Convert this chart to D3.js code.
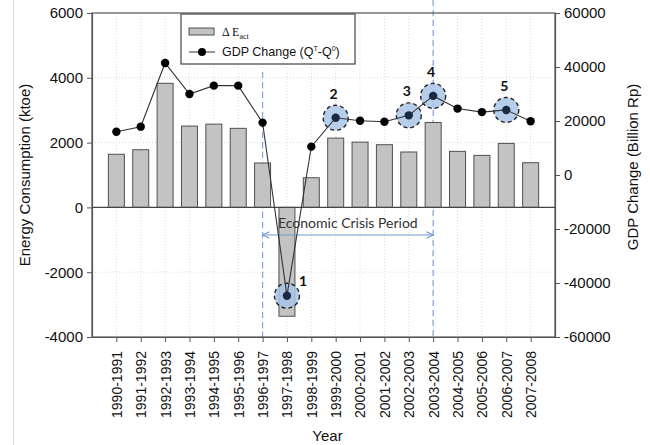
<!DOCTYPE html>
<html>
<head>
<meta charset="utf-8">
<script src="https://cdn.jsdelivr.net/npm/d3@7"></script>
<style>
  body { margin: 0; background: #fff; }
  svg { display: block; font-family: "Liberation Sans", Arial, sans-serif; }
</style>
</head>
<body>
<div id="chart"></div>
<script>
// data
const years = ["1990-1991","1991-1992","1992-1993","1993-1994","1994-1995","1995-1996",
  "1996-1997","1997-1998","1998-1999","1999-2000","2000-2001","2001-2002","2002-2003",
  "2003-2004","2004-2005","2005-2006","2006-2007","2007-2008"];
const energyChange = [1640, 1780, 3830, 2510, 2570, 2440, 1370, -3360, 915,
  2140, 2015, 1935, 1710, 2620, 1730, 1605, 1975, 1380];
const gdpChange = [16000, 17900, 41500, 30000, 33100, 33100, 19400, -44700, 10500,
  21200, 20100, 19700, 22100, 29300, 24600, 23300, 24100, 19900];
const leftTicks = [-4000, -2000, 0, 2000, 4000, 6000];
const rightTicks = [-60000, -40000, -20000, 0, 20000, 40000, 60000];
// highlighted points: [year index, label]
const highlights = [[7, "1"], [9, "2"], [12, "3"], [13, "4"], [16, "5"]];
const crisisStart = "1996-1997";
const crisisEnd = "2003-2004";

const width = 650, height = 445;
const margin = { top: 13, right: 95, bottom: 108, left: 92 };
const innerW = width - margin.left - margin.right;
const innerH = height - margin.top - margin.bottom;

const svg = d3.select("#chart").append("svg")
  .attr("width", width)
  .attr("height", height);

// faint page edge line on the left
svg.append("line")
  .attr("x1", 13.5).attr("x2", 13.5)
  .attr("y1", 0).attr("y2", height)
  .attr("stroke", "#ddd");

const g = svg.append("g")
  .attr("transform", `translate(${margin.left},${margin.top})`);

const x = d3.scalePoint()
  .domain(years)
  .range([0, innerW])
  .padding(1);

const yL = d3.scaleLinear().domain([-4000, 6000]).range([innerH, 0]);
const yR = d3.scaleLinear().domain([-60000, 60000]).range([innerH, 0]);

// grid
g.append("g")
  .selectAll("line.hgrid")
  .data(leftTicks.filter(d => d !== 0 && d !== 6000 && d !== -4000))
  .join("line")
  .attr("x1", 0).attr("x2", innerW)
  .attr("y1", d => yL(d)).attr("y2", d => yL(d))
  .attr("stroke", "#d8d8d8")
  .attr("stroke-dasharray", "1,2");

g.append("g")
  .selectAll("line.vgrid")
  .data(years)
  .join("line")
  .attr("x1", d => x(d)).attr("x2", d => x(d))
  .attr("y1", 0).attr("y2", innerH)
  .attr("stroke", "#dcdcdc")
  .attr("stroke-dasharray", "1,2");

// crisis dashed lines
g.append("line")
  .attr("x1", x(crisisStart)).attr("x2", x(crisisStart))
  .attr("y1", 59).attr("y2", innerH)
  .attr("stroke", "#7fa6d6")
  .attr("stroke-width", 1.2)
  .attr("stroke-dasharray", "6,4");

g.append("line")
  .attr("x1", x(crisisEnd)).attr("x2", x(crisisEnd))
  .attr("y1", -13).attr("y2", innerH)
  .attr("stroke", "#7fa6d6")
  .attr("stroke-width", 1.2)
  .attr("stroke-dasharray", "6,4");

// bars
const barW = 16;
g.selectAll(".bar")
  .data(energyChange)
  .join("rect")
  .attr("class", "bar")
  .attr("x", (d, i) => x(years[i]) - barW / 2)
  .attr("y", d => yL(Math.max(0, d)))
  .attr("width", barW)
  .attr("height", d => Math.abs(yL(d) - yL(0)))
  .attr("fill", "#c3c3c3")
  .attr("stroke", "#505050")
  .attr("stroke-width", 1);

// zero line
g.append("line")
  .attr("x1", 0).attr("x2", innerW)
  .attr("y1", yL(0)).attr("y2", yL(0))
  .attr("stroke", "#444")
  .attr("stroke-width", 1.2);

// crisis arrow + label
const defs = svg.append("defs");
defs.append("marker")
  .attr("id", "arrow")
  .attr("viewBox", "0 0 10 10")
  .attr("refX", 9).attr("refY", 5)
  .attr("markerWidth", 7).attr("markerHeight", 7)
  .attr("orient", "auto-start-reverse")
  .append("path")
  .attr("d", "M1,1 L9,5 L1,9")
  .attr("fill", "none")
  .attr("stroke", "#6f9ad0")
  .attr("stroke-width", 1.3);

g.append("line")
  .attr("x1", x(crisisStart)).attr("x2", x(crisisEnd))
  .attr("y1", 222).attr("y2", 222)
  .attr("stroke", "#6f9ad0")
  .attr("stroke-width", 1.2)
  .attr("marker-start", "url(#arrow)")
  .attr("marker-end", "url(#arrow)");

g.append("text")
  .attr("x", (x(crisisStart) + x(crisisEnd)) / 2)
  .attr("y", 215)
  .attr("text-anchor", "middle")
  .attr("font-family", "Lato, 'Open Sans', sans-serif")
  .attr("font-size", 14)
  .attr("fill", "#333")
  .text("Economic Crisis Period");

// highlight circles (behind line)
g.selectAll(".hl")
  .data(highlights)
  .join("circle")
  .attr("class", "hl")
  .attr("cx", d => x(years[d[0]]))
  .attr("cy", d => yR(gdpChange[d[0]]))
  .attr("r", 12.5)
  .attr("fill", "#a9c6e6")
  .attr("fill-opacity", 0.85)
  .attr("stroke", "#222")
  .attr("stroke-width", 1.4)
  .attr("stroke-dasharray", "4,3");

// GDP line
const line = d3.line()
  .x((d, i) => x(years[i]))
  .y(d => yR(d));

g.append("path")
  .datum(gdpChange)
  .attr("fill", "none")
  .attr("stroke", "#333")
  .attr("stroke-width", 1.1)
  .attr("d", line);

g.selectAll(".dot")
  .data(gdpChange)
  .join("circle")
  .attr("class", "dot")
  .attr("cx", (d, i) => x(years[i]))
  .attr("cy", d => yR(d))
  .attr("r", 4.2)
  .attr("fill", "#000");

// recolor highlighted dots dark navy
g.selectAll(".dot")
  .filter((d, i) => highlights.some(h => h[0] === i))
  .attr("fill", "#1a2a44");

// highlight labels
g.selectAll(".hl-label")
  .data(highlights)
  .join("text")
  .attr("class", "hl-label")
  .attr("x", d => x(years[d[0]]) + (d[1] === "1" ? 16 : -2))
  .attr("y", d => yR(gdpChange[d[0]]) + (d[1] === "1" ? -10 : -19))
  .attr("text-anchor", "middle")
  .attr("font-family", "Lato, 'Open Sans', sans-serif")
  .attr("font-weight", "bold")
  .attr("font-size", 14)
  .attr("fill", "#111")
  .text(d => d[1]);

// frame
g.append("rect")
  .attr("x", 0).attr("y", 0)
  .attr("width", innerW).attr("height", innerH)
  .attr("fill", "none")
  .attr("stroke", "#555")
  .attr("stroke-width", 1.2);

// axes
const plain = d => String(d);
const leftAxis = g.append("g")
  .call(d3.axisLeft(yL).tickValues(leftTicks).tickFormat(plain).tickSize(5).tickSizeOuter(0));
const rightAxis = g.append("g")
  .attr("transform", `translate(${innerW},0)`)
  .call(d3.axisRight(yR).tickValues(rightTicks).tickFormat(plain).tickSize(5).tickSizeOuter(0));
const bottomAxis = g.append("g")
  .attr("transform", `translate(0,${innerH})`)
  .call(d3.axisBottom(x).tickSize(5).tickSizeOuter(0));

[leftAxis, rightAxis, bottomAxis].forEach(ax => {
  ax.select(".domain").attr("stroke", "#555").attr("stroke-width", 1.2);
  ax.selectAll(".tick line").attr("stroke", "#555");
  ax.selectAll("text")
    .attr("font-family", "'Liberation Sans', Arial, sans-serif")
    .attr("font-size", 15)
    .attr("fill", "#111");
});

leftAxis.selectAll("text").attr("x", -9);
rightAxis.selectAll("text").attr("x", 9);

bottomAxis.selectAll("text")
  .attr("font-size", 14)
  .attr("transform", "rotate(-90)")
  .attr("text-anchor", "end")
  .attr("x", -14)
  .attr("y", 0)
  .attr("dy", "0.35em");

// axis titles
svg.append("text")
  .attr("transform", `translate(30,${margin.top + innerH / 2}) rotate(-90)`)
  .attr("text-anchor", "middle")
  .attr("font-size", 15)
  .attr("fill", "#111")
  .text("Energy Consumption (ktoe)");

svg.append("text")
  .attr("transform", `translate(638,${margin.top + innerH / 2 - 8}) rotate(-90)`)
  .attr("text-anchor", "middle")
  .attr("font-size", 15)
  .attr("fill", "#111")
  .text("GDP Change (Billion Rp)");

svg.append("text")
  .attr("x", margin.left + innerW / 2 + 4)
  .attr("y", 441)
  .attr("text-anchor", "middle")
  .attr("font-size", 15)
  .attr("fill", "#111")
  .text("Year");

// legend
const lg = svg.append("g").attr("transform", "translate(181,14)");
lg.append("rect")
  .attr("width", 174).attr("height", 50)
  .attr("fill", "#fff")
  .attr("stroke", "#444")
  .attr("stroke-width", 1.2);
lg.append("rect")
  .attr("x", 8).attr("y", 14)
  .attr("width", 25).attr("height", 7)
  .attr("fill", "#c3c3c3")
  .attr("stroke", "#505050");
const lt1 = lg.append("text")
  .attr("x", 41).attr("y", 22)
  .attr("font-family", "'Liberation Serif', 'Times New Roman', serif")
  .attr("font-size", 12)
  .attr("fill", "#111");
lt1.append("tspan").text("\u0394 E");
lt1.append("tspan").attr("dy", 3).attr("font-size", 8).text("act");

lg.append("line")
  .attr("x1", 8).attr("x2", 34)
  .attr("y1", 38).attr("y2", 38)
  .attr("stroke", "#333");
lg.append("circle")
  .attr("cx", 21).attr("cy", 38).attr("r", 4)
  .attr("fill", "#000");
const lt2 = lg.append("text")
  .attr("x", 41).attr("y", 42)
  .attr("font-size", 12.5)
  .attr("fill", "#111");
lt2.append("tspan").text("GDP Change (Q");
lt2.append("tspan").attr("dy", -5).attr("font-size", 7).text("T");
lt2.append("tspan").attr("dy", 5).text("-Q");
lt2.append("tspan").attr("dy", -5).attr("font-size", 7).text("0");
lt2.append("tspan").attr("dy", 5).text(")");
</script>
</body>
</html>
